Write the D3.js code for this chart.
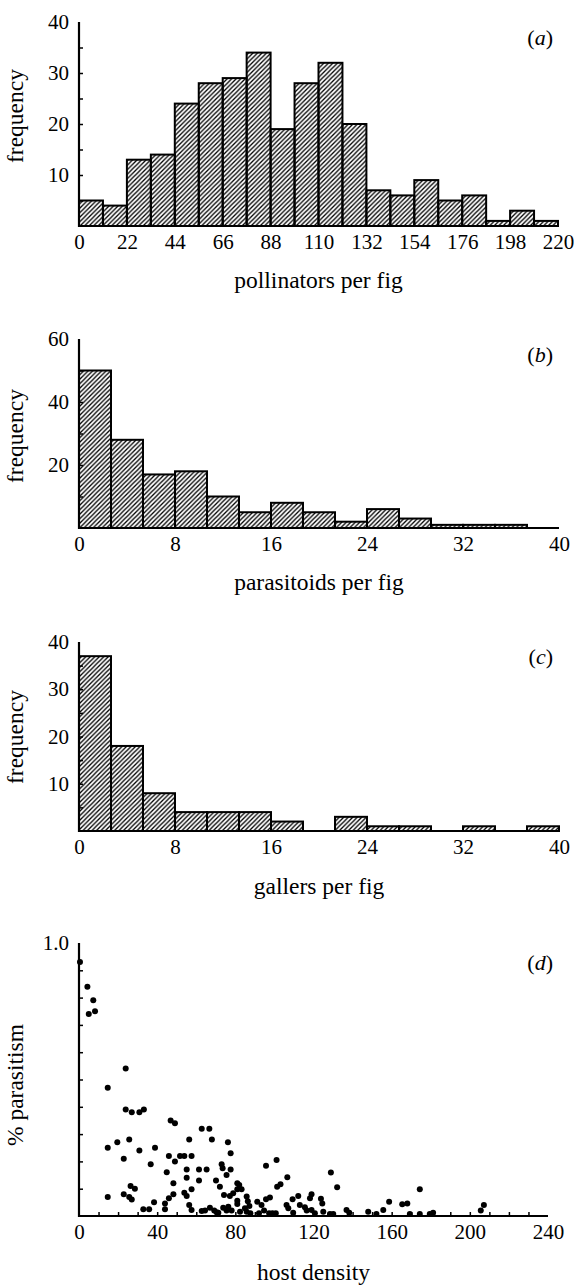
<!DOCTYPE html>
<html>
<head>
<meta charset="utf-8">
<script src="https://cdn.jsdelivr.net/npm/d3@7"></script>
<style>
  body { margin: 0; background: #fff; }
  svg { display: block; }
  svg text { font-family: "Liberation Serif", "DejaVu Serif", serif; }
</style>
</head>
<body>
<svg id="chart" width="574" height="1287"></svg>
<script>
// histogram counts
const pollinatorCounts = [5, 4, 13, 14, 24, 28, 29, 34, 19, 28, 32, 20, 7, 6, 9, 5, 6, 1, 3, 1];
const parasitoidCounts = [50, 28, 17, 18, 10, 5, 8, 5, 2, 6, 3, 1, 1, 1, 0];
const gallerCounts = [37, 18, 8, 4, 4, 4, 2, 0, 3, 1, 1, 0, 1, 0, 1];

const pollinatorTicks = [0, 22, 44, 66, 88, 110, 132, 154, 176, 198, 220];
const fortyTicks = [0, 8, 16, 24, 32, 40];
const densityTicks = [0, 40, 80, 120, 160, 200, 240];

// panel (d): host density vs proportion parasitised
const hostDensity = [
  0.5, 4.3, 7.3, 5.0, 8.2, 23.9, 14.7, 23.9, 27.0, 30.9, 33.2, 46.9, 49.1, 62.8, 66.7,
  14.7, 19.6, 25.7, 30.9, 38.9, 22.9, 36.7, 46.0, 49.1, 51.7, 53.9, 57.6, 56.4, 68.0, 76.2, 77.6,
  55.1, 55.1, 61.4, 65.3, 73.0, 73.5, 77.6, 75.5, 44.9, 61.4, 70.1, 48.3,
  26.4, 28.6, 14.7, 22.9, 25.7, 27.0, 32.9, 35.9, 38.4, 44.0, 44.0, 46.0, 48.3,
  53.9, 55.1, 57.6, 56.4, 57.6,
  62.8, 64.5, 67.0, 69.2, 70.4, 71.3, 73.8, 75.5, 76.4, 78.1, 82.4, 84.9, 85.8,
  72.1, 74.2, 77.2, 78.9, 81.0, 82.0, 81.0, 83.2, 81.0, 81.0,
  85.8, 86.4, 87.2, 87.7, 91.2, 93.4, 95.7, 95.7, 97.7,
  101.1, 101.4, 103.1, 106.6, 92.1, 94.7, 97.3, 99.0, 100.7,
  106.2, 107.1, 109.3, 112.2, 109.6, 113.0, 115.6, 116.5, 118.2, 119.0, 119.0, 120.7,
  123.8, 124.5, 125.0, 128.9, 132.1, 128.4, 130.1,
  136.9, 138.3, 148.0, 152.2, 155.7, 158.7, 165.4, 168.0, 169.3, 174.4, 174.4, 179.5, 181.2, 205.6, 207.2
];
const parasitism = [
  0.93, 0.84, 0.79, 0.74, 0.75, 0.54, 0.47, 0.39, 0.38, 0.38, 0.39, 0.35, 0.34, 0.32, 0.32,
  0.25, 0.27, 0.28, 0.24, 0.25, 0.21, 0.19, 0.22, 0.20, 0.22, 0.22, 0.22, 0.28, 0.28, 0.27, 0.23,
  0.17, 0.14, 0.17, 0.17, 0.19, 0.175, 0.17, 0.15, 0.16, 0.13, 0.13, 0.12,
  0.11, 0.10, 0.07, 0.08, 0.07, 0.06, 0.025, 0.025, 0.05, 0.025, 0.046, 0.065, 0.08,
  0.085, 0.073, 0.098, 0.04, 0.022,
  0.018, 0.02, 0.03, 0.02, 0.014, 0.012, 0.03, 0.02, 0.034, 0.02, 0.016, 0.028, 0.016,
  0.107, 0.077, 0.073, 0.083, 0.12, 0.114, 0.098, 0.098, 0.056, 0.044,
  0.071, 0.054, 0.037, 0.01, 0.052, 0.04, 0.184, 0.061, 0.068,
  0.205, 0.107, 0.116, 0.142, 0.01, 0.02, 0.01, 0.01, 0.01,
  0.04, 0.028, 0.061, 0.073, 0.012, 0.04, 0.032, 0.02, 0.065, 0.08, 0.022, 0.01,
  0.063, 0.046, 0.016, 0.159, 0.105, 0.007, 0.007,
  0.022, 0.012, 0.016, 0.007, 0.022, 0.052, 0.043, 0.046, 0.007, 0.098, 0.007, 0.007, 0.012, 0.02, 0.04
];

const fontFamily = "Liberation Serif";
const tickFont = 21;
const titleFont = 23.5;

let svg = d3.select("#chart");

// diagonal hatch used to fill the bars
let defs = svg.append("defs");
defs.append("pattern")
    .attr("id", "hatch")
    .attr("patternUnits", "userSpaceOnUse")
    .attr("width", 4.5)
    .attr("height", 4.5)
  .append("path")
    .attr("d", "M-1,1 l2,-2 M0,4.5 l4.5,-4.5 M3.5,5.5 l2,-2")
    .style("stroke", "#000")
    .style("stroke-width", 1.3);

function styleText(sel, size) {
    sel.attr("font-family", fontFamily)
        .style("font-family", fontFamily)
        .style("font-size", size + "px")
        .style("fill", "#000");
}

function drawAxes(g, x, y, opts) {
    // minor inward ticks on y
    g.append("g")
        .attr("transform", "translate(" + x.range()[0] + ",0)")
        .call(d3.axisLeft(y).tickValues(opts.yMinor).tickSize(-4).tickFormat(""))
        .call(a => a.select(".domain").remove())
        .selectAll("line").style("stroke-width", 1.5);

    // y labels
    g.append("g")
        .attr("transform", "translate(" + x.range()[0] + ",0)")
        .call(d3.axisLeft(y).tickValues(opts.yLabels).tickSize(0).tickPadding(10).tickFormat(opts.yFormat || d3.format("d")))
        .call(a => a.select(".domain").remove())
        .call(a => a.attr("font-family", null))
        .selectAll("text")
        .call(styleText, tickFont);

    if (opts.xMinor) {
        g.append("g")
            .attr("transform", "translate(0," + y.range()[0] + ")")
            .call(d3.axisBottom(x).tickValues(opts.xMinor).tickSize(-4).tickFormat(""))
            .call(a => a.select(".domain").remove())
            .selectAll("line").style("stroke-width", 1.5);
    }

    // x labels
    g.append("g")
        .attr("transform", "translate(0," + y.range()[0] + ")")
        .call(d3.axisBottom(x).tickValues(opts.xLabels).tickSize(0).tickPadding(8).tickFormat(d3.format("d")))
        .call(a => a.select(".domain").remove())
        .call(a => a.attr("font-family", null))
        .selectAll("text")
        .call(styleText, tickFont);

    // axis lines
    g.append("line")
        .attr("x1", x.range()[0]).attr("x2", x.range()[0])
        .attr("y1", y.range()[1]).attr("y2", y.range()[0] + 1)
        .style("stroke", "#000").style("stroke-width", 2.2);
    g.append("line")
        .attr("x1", x.range()[0] - 1).attr("x2", x.range()[1])
        .attr("y1", y.range()[0]).attr("y2", y.range()[0])
        .style("stroke", "#000").style("stroke-width", 2.2);

    // titles
    g.append("text")
        .attr("x", (x.range()[0] + x.range()[1]) / 2)
        .attr("y", y.range()[0] + opts.titleOffset)
        .attr("text-anchor", "middle")
        .call(styleText, titleFont)
        .text(opts.xTitle);
    g.append("text")
        .attr("transform", "translate(23," + opts.yTitleCenter + ") rotate(-90)")
        .attr("text-anchor", "middle")
        .call(styleText, titleFont)
        .text(opts.yTitle);

    // panel letter
    let letter = g.append("text")
        .attr("x", 553)
        .attr("y", y.range()[1] + opts.letterOffset)
        .attr("text-anchor", "end")
        .call(styleText, 22);
    letter.append("tspan").text("(");
    letter.append("tspan").style("font-style", "italic").text(opts.letter);
    letter.append("tspan").text(")");
}

function drawHistogram(counts, xMax, yMax, box, opts) {
    let g = svg.append("g");
    let binWidth = xMax / counts.length;
    let x = d3.scaleLinear().domain([0, xMax]).range([box.left, box.right]);
    let y = d3.scaleLinear().domain([0, yMax]).range([box.bottom, box.top]);

    let bins = counts.map((c, i) => ({x0: i * binWidth, x1: (i + 1) * binWidth, count: c}));

    g.selectAll("rect.bar")
        .data(bins.filter(d => d.count > 0))
        .enter()
        .append("rect")
        .attr("class", "bar")
        .attr("x", d => x(d.x0))
        .attr("y", d => y(d.count))
        .attr("width", d => x(d.x1) - x(d.x0))
        .attr("height", d => y(0) - y(d.count))
        .style("fill", "url(#hatch)")
        .style("stroke", "#000")
        .style("stroke-width", 2);

    drawAxes(g, x, y, opts);
}

drawHistogram(pollinatorCounts, 220, 40, {left: 79, right: 558, top: 22, bottom: 226}, {
    yMinor: [5, 10, 15, 20, 25, 30, 35], yLabels: [10, 20, 30, 40],
    xLabels: pollinatorTicks, xTitle: "pollinators per fig", yTitle: "frequency",
    titleOffset: 62, yTitleCenter: 116, letter: "a", letterOffset: 23
});

drawHistogram(parasitoidCounts, 40, 60, {left: 79, right: 559, top: 339, bottom: 528}, {
    yMinor: [10, 20, 30, 40, 50], yLabels: [20, 40, 60],
    xLabels: fortyTicks, xTitle: "parasitoids per fig", yTitle: "frequency",
    titleOffset: 62, yTitleCenter: 436, letter: "b", letterOffset: 23
});

drawHistogram(gallerCounts, 40, 40, {left: 79, right: 559, top: 642, bottom: 831}, {
    yMinor: [5, 10, 15, 20, 25, 30, 35], yLabels: [10, 20, 30, 40],
    xLabels: fortyTicks, xTitle: "gallers per fig", yTitle: "frequency",
    titleOffset: 63, yTitleCenter: 737, letter: "c", letterOffset: 22
});

// scatter panel
function drawScatter() {
    let g = svg.append("g");
    let x = d3.scaleLinear().domain([0, 240]).range([79, 548]);
    let y = d3.scaleLinear().domain([0, 1]).range([1216, 943]);
    let points = hostDensity.map((h, i) => ({h: h, p: parasitism[i]}));

    g.selectAll("circle.dot")
        .data(points)
        .enter()
        .append("circle")
        .attr("class", "dot")
        .attr("cx", d => x(d.h))
        .attr("cy", d => y(d.p))
        .attr("r", 3)
        .style("fill", "#000");

    drawAxes(g, x, y, {
        yMinor: d3.range(1, 10).map(i => i / 10), yLabels: [1.0], yFormat: d3.format(".1f"),
        xMinor: d3.range(10, 240, 10), xLabels: densityTicks,
        xTitle: "host density", yTitle: "% parasitism",
        titleOffset: 64, yTitleCenter: 1085, letter: "d", letterOffset: 27
    });
}

drawScatter();
</script>
</body>
</html>
